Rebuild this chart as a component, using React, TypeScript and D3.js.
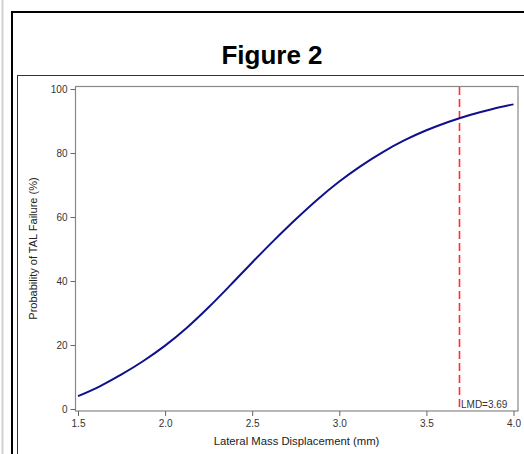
import React, { useRef, useEffect } from 'react';
import * as d3 from 'd3';

// probability curve (LMD in mm, probability in %)
const lmdValues = [1.5, 1.625, 1.75, 1.875, 2.0, 2.125, 2.25, 2.375, 2.5, 2.625, 2.75, 2.875, 3.0, 3.125, 3.25, 3.375, 3.5, 3.625, 3.75, 3.875, 4.0];
const probValues = [4.0, 7.1, 10.8, 15.0, 19.8, 25.4, 31.8, 38.7, 45.8, 52.7, 59.3, 65.5, 71.1, 76.0, 80.3, 84.0, 87.1, 89.7, 91.9, 93.7, 95.2];
const xTicks = [1.5, 2.0, 2.5, 3.0, 3.5, 4.0];
const yTicks = [0, 20, 40, 60, 80, 100];
const cutoff = 3.69;

const App = () => {
  const svgRef = useRef<SVGSVGElement>(null);

  useEffect(() => {
    const svg = d3.select(svgRef.current);
    svg.selectAll('*').remove();
    const font = 'Liberation Sans, Arial, sans-serif';

    // page decorations
    svg.append('rect').attr('x', 1.5).attr('y', 0).attr('width', 2).attr('height', 454).attr('fill', '#d0d0d0');
    svg.append('rect').attr('x', 12).attr('y', 12).attr('width', 530).attr('height', 460)
      .attr('fill', 'none').attr('stroke', '#000').attr('stroke-width', 2);
    svg.append('rect').attr('x', 17.5).attr('y', 75.5).attr('width', 520).attr('height', 400)
      .attr('fill', 'none').attr('stroke', '#333').attr('stroke-width', 1);

    svg.append('text')
      .attr('x', 272).attr('y', 64)
      .attr('text-anchor', 'middle')
      .attr('font-family', font).attr('font-weight', 'bold').attr('font-size', 26)
      .text('Figure 2');

    const x = d3.scaleLinear().domain([1.5, 4.0]).range([78, 513.5]);
    const y = d3.scaleLinear().domain([0, 100]).range([409, 89]);

    // plot frame
    svg.append('rect').attr('x', 75.5).attr('y', 86.5).attr('width', 442.5).attr('height', 324.5)
      .attr('fill', 'none').attr('stroke', '#888').attr('stroke-width', 1.2);

    const xAxis = svg.append('g')
      .attr('transform', 'translate(0,411)')
      .call(d3.axisBottom(x).tickValues(xTicks).tickFormat(d3.format('.1f')).tickSize(5).tickSizeOuter(0));
    xAxis.select('.domain').remove();
    xAxis.selectAll('line').attr('stroke', '#666');
    xAxis.selectAll('text').attr('font-family', font).attr('font-size', 10).attr('fill', '#333').attr('dy', '0.8em');

    const yAxis = svg.append('g')
      .attr('transform', 'translate(75.5,0)')
      .call(d3.axisLeft(y).tickValues(yTicks).tickSize(5).tickSizeOuter(0));
    yAxis.select('.domain').remove();
    yAxis.selectAll('line').attr('stroke', '#666');
    yAxis.selectAll('text').attr('font-family', font).attr('font-size', 10).attr('fill', '#333').attr('x', -8);

    svg.append('text')
      .attr('x', 296.5).attr('y', 445)
      .attr('text-anchor', 'middle')
      .attr('font-family', font).attr('font-size', 11.3).attr('fill', '#222')
      .text('Lateral Mass Displacement (mm)');

    svg.append('text')
      .attr('transform', 'translate(37,248.5) rotate(-90)')
      .attr('text-anchor', 'middle')
      .attr('font-family', font).attr('font-size', 11).attr('fill', '#222')
      .text('Probability of TAL Failure (%)');

    // cutoff line
    svg.append('line')
      .attr('x1', x(cutoff)).attr('x2', x(cutoff))
      .attr('y1', 87).attr('y2', 410.5)
      .attr('stroke', '#ff3030').attr('stroke-width', 1.6)
      .attr('stroke-dasharray', '8,4');
    svg.append('text')
      .attr('x', x(cutoff) + 1.5).attr('y', 408)
      .attr('font-family', font).attr('font-size', 10).attr('fill', '#333')
      .text(`LMD=${cutoff}`);

    const points: [number, number][] = lmdValues.map((v, i) => [v, probValues[i]]);
    const line = d3.line<[number, number]>()
      .x(d => x(d[0]))
      .y(d => y(d[1]))
      .curve(d3.curveMonotoneX);

    svg.append('path')
      .datum(points)
      .attr('d', line)
      .attr('fill', 'none')
      .attr('stroke', '#10108c')
      .attr('stroke-width', 2);
  }, []);

  return (
    <div style={{ position: 'absolute', left: 0, top: 0 }}>
      <svg ref={svgRef} width="524" height="454" style={{ display: 'block' }}></svg>
    </div>
  );
};

export default App;
